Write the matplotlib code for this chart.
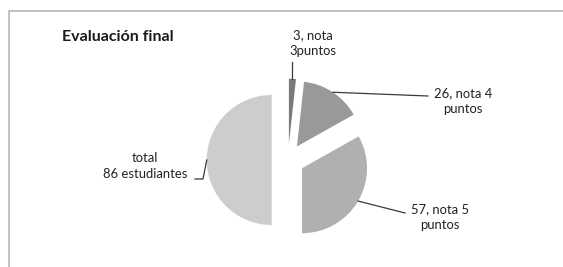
import numpy as np
import matplotlib.pyplot as plt

# Evaluación final - pie de notas de los estudiantes
valores = [3, 26, 57, 86]
etiquetas = ["3, nota\n3puntos", "26, nota 4\npuntos", "57, nota 5\npuntos",
             "total\n86 estudiantes"]
colores = ["#7a7a7a", "#999999", "#b0b0b0", "#cdcdcd"]
separacion = [0.25, 0.25, 0.25, 0.25]

plt.rcParams["font.family"] = ["Lato", "DejaVu Sans"]

W, H = 563, 267
R = 65
fig = plt.figure(figsize=(W / 100, H / 100), dpi=100)
ax = fig.add_axes([0, 0, 1, 1])

# explode en pie va en unidades de datos, asi que se escala por el radio
wedges, _ = ax.pie(valores, colors=colores,
                   explode=[s * R for s in separacion], startangle=90,
                   counterclock=False, center=(288, H - 160), radius=R,
                   wedgeprops=dict(linewidth=0))
ax.set_xlim(0, W)
ax.set_ylim(0, H)
ax.set_aspect("equal")
ax.axis("off")

# marco gris (izquierda y arriba)
ax.plot([8.5, 8.5, W], [0, H - 10.7, H - 10.7], color="#b5b5b5", lw=1.2,
        solid_capstyle="butt", clip_on=False)

ax.text(62, H - 37, "Evaluación final", fontsize=11.5, fontweight="bold",
        color="#1a1a1a", va="center", ha="left")


def punto_medio(w):
    ang = np.deg2rad((w.theta1 + w.theta2) / 2)
    cx, cy = w.center
    return cx + w.r * np.cos(ang), cy + w.r * np.sin(ang)


# posiciones de las etiquetas y codos de las lineas guia (None = misma x)
pos_texto = [(313, H - 43), (463, H - 101), (440, H - 217), (145, H - 166)]
codos = [[(None, H - 62)],
         [(428, H - 96)],
         [(405, H - 213)],
         [(203, H - 179), (195, H - 179)]]

for w, et, (tx, ty), codo in zip(wedges, etiquetas, pos_texto, codos):
    x0, y0 = punto_medio(w)
    xs = [x0] + [x0 if c[0] is None else c[0] for c in codo]
    ys = [y0] + [c[1] for c in codo]
    ax.plot(xs, ys, color="#3a3a3a", lw=0.9)
    ax.text(tx, ty, et, fontsize=9.4, color="#222222", ha="center",
            va="center", linespacing=1.35)

fig.savefig("out.png", dpi=100)
